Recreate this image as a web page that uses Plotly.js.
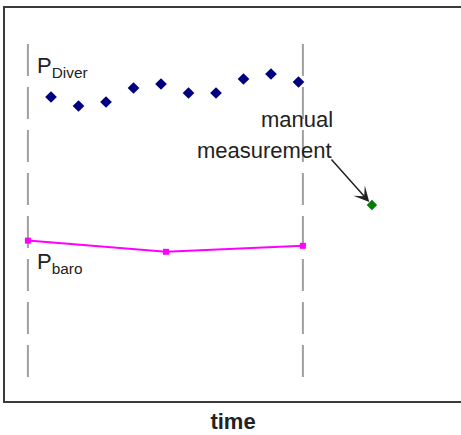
<!DOCTYPE html>
<html>
<head>
<meta charset="utf-8">
<script src="https://cdn.plot.ly/plotly-3.0.1.min.js"></script>
<style>html,body{margin:0;padding:0;background:#fff;}#chart{width:461px;height:435px;}</style>
</head>
<body>
<div id="chart"></div>
<script>
// time (arbitrary units) and pressure (arbitrary units)
var diverTime = [1, 2, 3, 4, 5, 6, 7, 8, 9, 10];
var diverPressure = [76.0, 73.75, 74.75, 78.25, 79.25, 77.0, 77.0, 80.5, 81.75, 79.75];
var baroTime = [0.16, 5.18, 10.16];
var baroPressure = [40.1, 37.3, 38.8];
var manualTime = [12.67];
var manualPressure = [49.0];
var markerTimes = [0.16, 10.16];
var markerRange = [6, 91.5];
var xLabel = 'time';
var manualLines = ['manual', 'measurement'];

var traces = [
  {x: diverTime, y: diverPressure, type: 'scatter', mode: 'markers',
   marker: {symbol: 'diamond', size: 9, color: '#000080'}, hoverinfo: 'skip'},
  {x: baroTime, y: baroPressure, type: 'scatter', mode: 'lines+markers',
   line: {color: '#ff00ff', width: 2},
   marker: {symbol: 'square', size: 6, color: '#ff00ff'}, hoverinfo: 'skip'},
  {x: manualTime, y: manualPressure, type: 'scatter', mode: 'markers',
   marker: {symbol: 'diamond', size: 8, color: '#008000'}, hoverinfo: 'skip'}
];

var shapes = markerTimes.map(function (t) {
  return {type: 'line', xref: 'x', yref: 'y', x0: t, x1: t,
          y0: markerRange[0], y1: markerRange[1],
          line: {color: '#a0a0a0', width: 2, dash: '32px,11px'}, layer: 'below'};
});

var font = 'Liberation Sans, Arial, sans-serif';
var annotations = [
  {x: 0.42, y: 83.5, xref: 'x', yref: 'y', xanchor: 'left', yanchor: 'middle',
   text: 'P<sub>Diver</sub>', showarrow: false, font: {family: font, size: 22, color: '#222'}},
  {x: 0.40, y: 34.5, xref: 'x', yref: 'y', xanchor: 'left', yanchor: 'middle',
   text: 'P<sub>baro</sub>', showarrow: false, font: {family: font, size: 22, color: '#222'}},
  {x: 11.33, y: 70.3, xref: 'x', yref: 'y', xanchor: 'right', yanchor: 'middle',
   text: manualLines[0], showarrow: false, font: {family: font, size: 22, color: '#222'}},
  {x: 11.30, y: 62.6, xref: 'x', yref: 'y', xanchor: 'right', yanchor: 'middle',
   text: manualLines[1], showarrow: false, font: {family: font, size: 22, color: '#222'}},
  {x: manualTime[0], y: manualPressure[0], xref: 'x', yref: 'y',
   ax: 11.15, ay: 60.75, axref: 'x', ayref: 'y', text: '', showarrow: true,
   arrowhead: 3, arrowsize: 1.7, arrowwidth: 1.5, arrowcolor: '#222', standoff: 4}
];

var layout = {
  width: 461, height: 435,
  margin: {l: 5, r: 0, t: 8, b: 34, pad: 0},
  paper_bgcolor: '#ffffff', plot_bgcolor: '#ffffff',
  showlegend: false,
  xaxis: {range: [-0.673, 15.909], showgrid: false, zeroline: false, showticklabels: false,
          ticks: '', showline: true, mirror: true, linecolor: '#3a3a3a', linewidth: 2,
          title: {text: '<b>' + xLabel + '</b>', standoff: 12,
                  font: {family: font, size: 22, color: '#222'}}},
  yaxis: {range: [0, 98.25], showgrid: false, zeroline: false, showticklabels: false,
          ticks: '', showline: true, mirror: false, linecolor: '#3a3a3a', linewidth: 2},
  shapes: shapes,
  annotations: annotations
};

Plotly.newPlot('chart', traces, layout, {staticPlot: true});
</script>
</body>
</html>
